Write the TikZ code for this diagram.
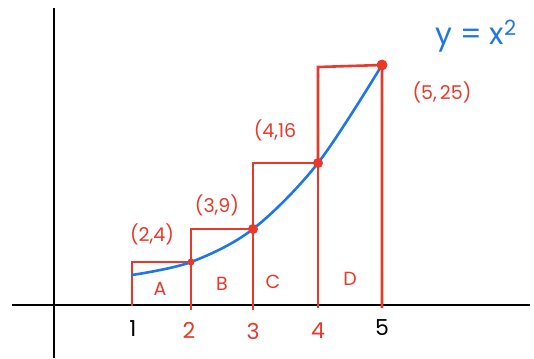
\documentclass[tikz,border=0pt]{standalone}
\usepackage{fontspec}
\setmainfont{Poppins}
\definecolor{pen}{HTML}{E8392B}
\definecolor{ink}{HTML}{1F77E6}
\tikzset{
  axis/.style={line width=2.8pt, black},
  bar/.style={line width=2.6pt, pen, line join=miter},
  curve/.style={line width=2.6pt, ink, line cap=round},
  dot/.style={circle, fill=pen, inner sep=0pt, minimum size=#1},
  lab/.style={text=pen, font=\fontsize{19}{21}\selectfont},
  tick/.style={font=\fontsize{22}{24}\selectfont},
}
\begin{document}
\begin{tikzpicture}[x=1pt,y=-1pt]
\useasboundingbox (0,0) rectangle (534,358);
% axes
\coordinate (yt) at (54,8);
\coordinate (yb) at (54,358);
\coordinate (xl) at (12,305);
\coordinate (xr) at (530,305);
\draw[axis] (yt) -- (yb);
\draw[axis] (xl) -- (xr);
% base points
\coordinate (b1) at (132,306);
\coordinate (b2) at (191,310);
\coordinate (b3) at (253,310);
\coordinate (b4) at (318,308);
\coordinate (b5) at (382,308);
% curve points
\coordinate (c1) at (132,275);
\coordinate (p2) at (191,262);
\coordinate (p3) at (253,229);
\coordinate (p4) at (318,163);
\coordinate (p5) at (382,65);
% tops of bars
\coordinate (t1) at (132,262);
\coordinate (t2) at (191,229);
\coordinate (t3) at (253,163);
\coordinate (t4) at (318,67);
% bars
\draw[bar] (b1) -- (t1) -- (p2) -- (b2);
\draw[bar] (p2) -- (t2) -- (p3) -- (b3);
\draw[bar] (p3) -- (t3) -- (p4) -- (b4);
\draw[bar] (p4) -- (t4) -- (p5) -- (b5);
% curve
\draw[curve] plot[smooth, tension=0.55] coordinates {(132,275) (191,262) (253,229) (318,163) (382,65)};
% dots
\node[dot=7pt] (d2) at (p2) {};
\node[dot=10pt] (d3) at (p3) {};
\node[dot=10pt] (d4) at (p4) {};
\node[dot=11pt] (d5) at (p5) {};
% tick labels
\node[tick] (n1) at (133,329) {1};
\node[tick, text=pen] (n2) at (189,330) {2};
\node[tick, text=pen] (n3) at (253,331) {3};
\node[tick, text=pen] (n4) at (318,331) {4};
\node[tick] (n5) at (382,328) {5};
% region labels
\node[lab] (A) at (160,289) {A};
\node[lab] (B) at (222,284) {B};
\node[lab] (C) at (273,282) {C};
\node[lab] (D) at (350,279) {D};
% point labels
\node[lab] (l2) at (152,234) {(2,4)};
\node[lab] (l3) at (217,205) {(3,9)};
\node[lab] (l4) at (275,130) {(4,16};
\node[lab] (l5) at (442,92) {(5,\,25)};
% function label
\node[text=ink, font=\fontsize{30}{32}\selectfont] (f) at (476,36) {y = x\textsuperscript{2}};
\end{tikzpicture}
\end{document}
